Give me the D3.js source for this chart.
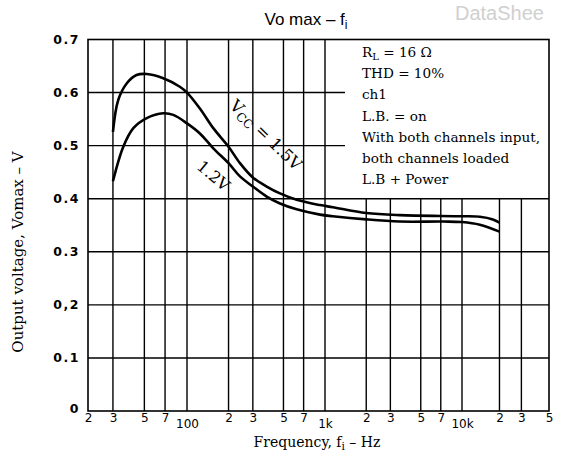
<!DOCTYPE html>
<html><head><meta charset="utf-8">
<script src="https://cdn.jsdelivr.net/npm/d3@7"></script>
<style>body{margin:0;background:#fff} svg{display:block}</style>
</head><body>
<svg id="c" width="562" height="459"></svg>
<script>
// ---- data ----
const freqTicks = [20,30,50,70,100,200,300,500,700,1000,2000,3000,5000,7000,10000,20000,30000,50000];
const freqTickLabels = ["2","3","5","7","100","2","3","5","7","1k","2","3","5","7","10k","2","3","5"];
const voltTicks = [0,0.1,0.2,0.3,0.4,0.5,0.6,0.7];
const voltTickLabels = ["0","0.1","0,2","0.3","0.4","0.5","0.6","0.7"];

const freq15 = [30,32.7,37.5,44,52,68,89,100,124,155,200,242,300,378,472,623,920,1140,2000,3500,10000,13900,17700,20000];
const vo15   = [0.526,0.586,0.617,0.633,0.635,0.627,0.611,0.600,0.570,0.533,0.498,0.467,0.440,0.423,0.410,0.398,0.388,0.384,0.373,0.369,0.367,0.366,0.361,0.355];
const freq12 = [30,35.5,41.8,52,68,80,100,124,155,200,242,300,378,472,623,920,1140,2000,3500,7300,10000,13900,20000];
const vo12   = [0.433,0.498,0.533,0.552,0.561,0.558,0.542,0.523,0.495,0.467,0.442,0.423,0.404,0.391,0.380,0.370,0.367,0.361,0.357,0.357,0.356,0.351,0.338];

const legendLines = ["R_L = 16 Ω","THD = 10%","ch1","L.B. = on","With both channels input,","both channels loaded","L.B + Power"];

// ---- chart ----
const svg = d3.select("#c");
const x = d3.scaleLog().domain([20,100,1000,10000,50000]).range([88,187,325,462,549]);
const y = d3.scaleLinear().domain([0,0.7]).range([411,39.5]);

const serif = "'DejaVu Serif', 'Liberation Serif', serif";
const sans = "'DejaVu Sans', sans-serif";

// grid
const g = svg.append("g").attr("stroke","#000").attr("stroke-width",1.4);
freqTicks.filter(f => f>20 && f<50000).forEach(f => {
  g.append("line").attr("x1",x(f)).attr("x2",x(f))
    .attr("y1",y(0)).attr("y2", f>1000 ? y(0.4) : y(0.7));
});
voltTicks.filter(v => v>0 && v<0.7).forEach(v => {
  g.append("line").attr("y1",y(v)).attr("y2",y(v))
    .attr("x1",x(20)).attr("x2", v>0.4 ? x(1000)+20 : x(50000));
});
// frame
svg.append("rect").attr("x",x(20)).attr("y",y(0.7))
  .attr("width",x(50000)-x(20)).attr("height",y(0)-y(0.7))
  .attr("fill","none").attr("stroke","#000").attr("stroke-width",1.6);

// axes
const xAxis = svg.append("g").attr("transform",`translate(0,${y(0)})`)
  .call(d3.axisBottom(x).tickValues(freqTicks).tickFormat((d,i)=>freqTickLabels[i]).tickSize(0));
xAxis.select(".domain").remove();
xAxis.selectAll("text").attr("dy",0)
  .attr("y",(d,i)=> freqTickLabels[i].length>1 ? 17 : 11)
  .attr("font-family",sans).attr("font-size",12).attr("fill","#000");

const yAxis = svg.append("g").attr("transform",`translate(${x(20)},0)`)
  .call(d3.axisLeft(y).tickValues(voltTicks).tickFormat((d,i)=>voltTickLabels[i]).tickSize(0));
yAxis.select(".domain").remove();
yAxis.selectAll("text").attr("x",-8).attr("dy","0.32em")
  .attr("font-family",sans).attr("font-size",12.5).attr("font-weight",600)
  .attr("letter-spacing",1.5).attr("fill","#000");
yAxis.selectAll(".tick").filter(d=>d===0).select("text").attr("dy","0.1em");

// curves
const line = d3.line().x(d=>x(d[0])).y(d=>y(d[1])).curve(d3.curveCatmullRom.alpha(0.5));
[[freq15,vo15],[freq12,vo12]].forEach(([fs,vs]) => {
  svg.append("path").datum(fs.map((f,i)=>[f,vs[i]]))
    .attr("d",line).attr("fill","none").attr("stroke","#000").attr("stroke-width",2.6);
});

// curve labels
const l1 = svg.append("text").attr("transform","translate(262,139) rotate(44)")
  .attr("text-anchor","middle").attr("font-family",serif).attr("font-size",16.5);
l1.append("tspan").text("V");
l1.append("tspan").attr("font-size",12).attr("dy",3).text("CC");
l1.append("tspan").attr("dy",-3).text(" = 1.5V");
svg.append("text").attr("transform","translate(210,180) rotate(40)")
  .attr("text-anchor","middle").attr("font-family",serif).attr("font-size",16).text("1.2V");

// legend
const leg = svg.append("g").attr("font-family",serif).attr("font-size",13.6).attr("fill","#000");
legendLines.forEach((t,i) => {
  const tx = leg.append("text").attr("x",362).attr("y",57 + i*21.2);
  if (t.startsWith("R_L")) {
    tx.append("tspan").text("R");
    tx.append("tspan").attr("font-size",10).attr("dy",3).text("L");
    tx.append("tspan").attr("dy",-3).text(" = 16 Ω");
  } else tx.text(t);
});

// title
const title = svg.append("text").attr("x",306).attr("y",25).attr("text-anchor","middle")
  .attr("font-family","'Liberation Sans', Arial, sans-serif").attr("font-size",17);
title.append("tspan").text("Vo max – f");
title.append("tspan").attr("font-size",12).attr("dy",4).text("i");

// watermark (as visible in the reference)
svg.append("text").attr("x",455).attr("y",20).attr("font-family","'Liberation Sans', Arial, sans-serif")
  .attr("font-size",20).attr("fill","#d0d0d0").text("DataShee");

// axis titles
const xt = svg.append("text").attr("x",317).attr("y",447).attr("text-anchor","middle")
  .attr("font-family",serif).attr("font-size",14);
xt.append("tspan").text("Frequency, f");
xt.append("tspan").attr("font-size",10.5).attr("dy",3).text("i");
xt.append("tspan").attr("dy",-3).text(" – Hz");

svg.append("text").attr("transform","translate(23,252) rotate(-90)").attr("text-anchor","middle")
  .attr("font-family",serif).attr("font-size",15).text("Output voltage, Vomax – V");
</script>
</body></html>
